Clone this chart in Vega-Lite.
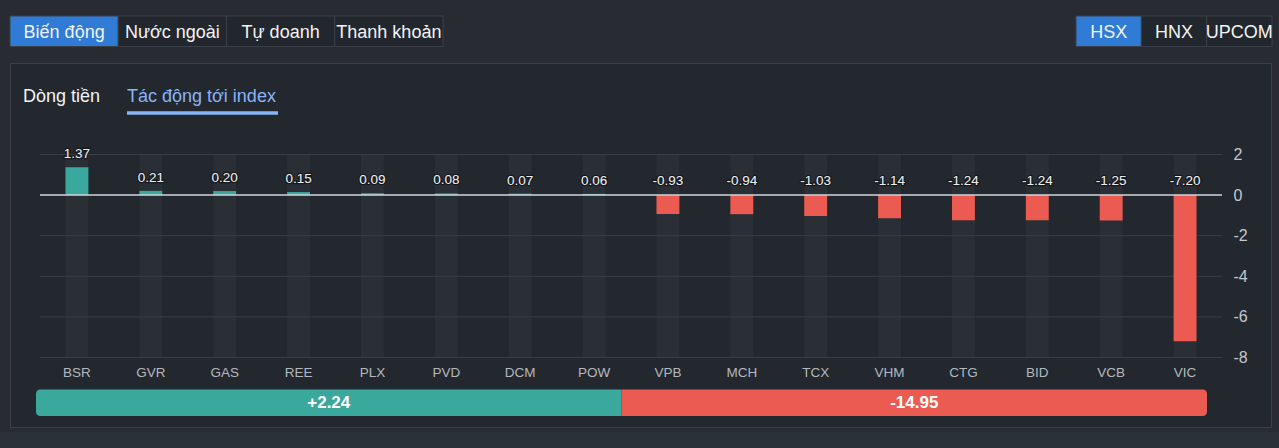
{
  "$schema": "https://vega.github.io/schema/vega-lite/v6.json",
  "width": 1261,
  "height": 364,
  "autosize": {"type": "none"},
  "padding": {"left": 10, "top": 63, "right": 8, "bottom": 21},
  "background": "#282b32",
  "view": {"fill": "#23272e", "stroke": "#3b4048", "strokeWidth": 1},
  "config": {
    "font": "Liberation Sans",
    "locale": {"number": {"decimal": ".", "thousands": ",", "grouping": [3], "currency": ["$", ""], "minus": "-"}}
  },
  "datasets": {
    "impact": [
      {"sym": "BSR", "v": 1.37},
      {"sym": "GVR", "v": 0.21},
      {"sym": "GAS", "v": 0.20},
      {"sym": "REE", "v": 0.15},
      {"sym": "PLX", "v": 0.09},
      {"sym": "PVD", "v": 0.08},
      {"sym": "DCM", "v": 0.07},
      {"sym": "POW", "v": 0.06},
      {"sym": "VPB", "v": -0.93},
      {"sym": "MCH", "v": -0.94},
      {"sym": "TCX", "v": -1.03},
      {"sym": "VHM", "v": -1.14},
      {"sym": "CTG", "v": -1.24},
      {"sym": "BID", "v": -1.24},
      {"sym": "VCB", "v": -1.25},
      {"sym": "VIC", "v": -7.20}
    ],
    "grid": [{"g": 2}, {"g": -2}, {"g": -4}, {"g": -6}, {"g": -8}],
    "btnL": [
      {"label": "Biến động", "active": true},
      {"label": "Nước ngoài", "active": false},
      {"label": "Tự doanh", "active": false},
      {"label": "Thanh khoản", "active": false}
    ],
    "btnR": [
      {"label": "HSX", "active": true},
      {"label": "HNX", "active": false},
      {"label": "UPCOM", "active": false}
    ],
    "tabs": [
      {"tab": "Dòng tiền", "active": false},
      {"tab": "Tác động tới index", "active": true}
    ],
    "summary": [
      {"side": "pos", "total": 2.24},
      {"side": "neg", "total": -14.95}
    ],
    "one": [{"k": 1}]
  },
  "layer": [
    {
      "data": {"name": "one"},
      "mark": {"type": "rect", "fill": "#2b3139"},
      "encoding": {
        "x": {"datum": 0, "type": "quantitative", "scale": {"domain": [0, 1], "range": [-10, 1269]}, "axis": null},
        "x2": {"datum": 1},
        "y": {"datum": 0, "type": "quantitative", "scale": {"domain": [0, 1], "range": [369, 392]}, "axis": null},
        "y2": {"datum": 1}
      }
    },
    {
      "data": {"name": "btnL"},
      "mark": {"type": "rect", "stroke": "#3b4048", "strokeWidth": 1},
      "encoding": {
        "x": {"field": "label", "type": "nominal", "sort": null, "scale": {"domain": ["Biến động", "Nước ngoài", "Tự doanh", "Thanh khoản"], "range": [0, 433], "paddingInner": 0, "paddingOuter": 0}, "axis": null},
        "y": {"datum": 0, "type": "quantitative", "scale": {"domain": [0, 1], "range": [-16.5, -47]}, "axis": null},
        "y2": {"datum": 1},
        "fill": {"condition": {"test": "datum.active", "value": "#2f7bd5"}, "value": "#22262d"}
      }
    },
    {
      "data": {"name": "btnL"},
      "mark": {"type": "text", "font": "Liberation Sans", "fontSize": 18, "align": "center", "baseline": "alphabetic", "fill": "#f2f3f5"},
      "encoding": {
        "x": {"field": "label", "type": "nominal", "sort": null, "scale": {"domain": ["Biến động", "Nước ngoài", "Tự doanh", "Thanh khoản"], "range": [0, 433], "paddingInner": 0, "paddingOuter": 0}, "axis": null},
        "y": {"datum": 0, "type": "quantitative", "scale": {"domain": [0, 1], "range": [-25.5, -60]}, "axis": null},
        "text": {"field": "label"}
      }
    },
    {
      "data": {"name": "btnR"},
      "mark": {"type": "rect", "stroke": "#3b4048", "strokeWidth": 1},
      "encoding": {
        "x": {"field": "label", "type": "nominal", "sort": null, "scale": {"domain": ["HSX", "HNX", "UPCOM"], "range": [1066, 1262], "paddingInner": 0, "paddingOuter": 0}, "axis": null},
        "y": {"datum": 0, "type": "quantitative", "scale": {"domain": [0, 1], "range": [-16.5, -47]}, "axis": null},
        "y2": {"datum": 1},
        "fill": {"condition": {"test": "datum.active", "value": "#2f7bd5"}, "value": "#22262d"}
      }
    },
    {
      "data": {"name": "btnR"},
      "mark": {"type": "text", "font": "Liberation Sans", "fontSize": 18, "align": "center", "baseline": "alphabetic", "fill": "#f2f3f5"},
      "encoding": {
        "x": {"field": "label", "type": "nominal", "sort": null, "scale": {"domain": ["HSX", "HNX", "UPCOM"], "range": [1066, 1262], "paddingInner": 0, "paddingOuter": 0}, "axis": null},
        "y": {"datum": 0, "type": "quantitative", "scale": {"domain": [0, 1], "range": [-25.5, -60]}, "axis": null},
        "text": {"field": "label"}
      }
    },
    {
      "data": {"name": "tabs"},
      "mark": {"type": "text", "font": "Liberation Sans", "fontSize": 18, "align": "left", "baseline": "alphabetic"},
      "encoding": {
        "x": {"field": "tab", "type": "nominal", "sort": null, "scale": {"type": "point", "domain": ["Dòng tiền", "Tác động tới index"], "range": [13, 117], "padding": 0}, "axis": null},
        "y": {"datum": 0, "type": "quantitative", "scale": {"domain": [0, 1], "range": [39, 0]}, "axis": null},
        "text": {"field": "tab"},
        "fill": {"condition": {"test": "datum.active", "value": "#8ab4f8"}, "value": "#f2f3f5"}
      }
    },
    {
      "data": {"name": "tabs"},
      "transform": [{"filter": "datum.active"}],
      "mark": {"type": "rule", "stroke": "#8ab4f8", "strokeWidth": 3.5},
      "encoding": {
        "x": {"datum": 0, "type": "quantitative", "scale": {"domain": [0, 1], "range": [117, 268]}, "axis": null},
        "x2": {"datum": 1},
        "y": {"datum": 0, "type": "quantitative", "scale": {"domain": [0, 1], "range": [50, 0]}, "axis": null}
      }
    },
    {
      "data": {"name": "impact"},
      "mark": {"type": "rect", "fill": "#2a2e35"},
      "encoding": {
        "x": {"field": "sym", "type": "nominal", "sort": null, "scale": {"range": [30, 1212], "paddingInner": 0.69, "paddingOuter": 0.345}, "axis": null},
        "y": {"datum": 2, "type": "quantitative", "scale": {"domain": [-8, 2], "range": [294.5, 91.5], "nice": false, "zero": false}, "axis": null},
        "y2": {"datum": -8}
      }
    },
    {
      "data": {"name": "grid"},
      "mark": {"type": "rule", "stroke": "#393d45", "strokeWidth": 1},
      "encoding": {
        "x": {"datum": 0, "type": "quantitative", "scale": {"domain": [0, 1], "range": [30, 1212]}, "axis": null},
        "x2": {"datum": 1},
        "y": {"field": "g", "type": "quantitative", "scale": {"domain": [-8, 2], "range": [294.5, 91.5], "nice": false, "zero": false}, "axis": null}
      }
    },
    {
      "data": {"name": "impact"},
      "mark": {"type": "bar"},
      "encoding": {
        "x": {
          "field": "sym", "type": "nominal", "sort": null,
          "scale": {"range": [30, 1212], "paddingInner": 0.69, "paddingOuter": 0.345},
          "axis": {"orient": "bottom", "offset": -69.5, "domain": false, "ticks": false, "labelPadding": 8, "labelFont": "Liberation Sans Narrow, Liberation Sans", "labelFontSize": 13.5, "labelColor": "#b4b8bf", "labelAngle": 0, "title": null}
        },
        "y": {
          "field": "v", "type": "quantitative",
          "scale": {"domain": [-8, 2], "range": [294.5, 91.5], "nice": false, "zero": false},
          "axis": {"orient": "right", "offset": -49, "values": [2, 0, -2, -4, -6, -8], "domain": false, "ticks": false, "grid": false, "labelPadding": 11, "labelFont": "Liberation Sans", "labelFontSize": 16, "labelColor": "#c4c8ce", "labelBaseline": "middle", "labelOverlap": false, "labelFlush": false, "labelBound": false, "title": null}
        },
        "y2": {"datum": 0},
        "color": {"condition": {"test": "datum.v > 0", "value": "#3aa89d"}, "value": "#ec5b51"}
      }
    },
    {
      "data": {"name": "one"},
      "mark": {"type": "rule", "stroke": "#d2d6dc", "strokeWidth": 1.5},
      "encoding": {
        "x": {"datum": 0, "type": "quantitative", "scale": {"domain": [0, 1], "range": [30, 1212]}, "axis": null},
        "x2": {"datum": 1},
        "y": {"datum": 0, "type": "quantitative", "scale": {"domain": [-8, 2], "range": [294.5, 91.5], "nice": false, "zero": false}, "axis": null}
      }
    },
    {
      "data": {"name": "impact"},
      "transform": [{"filter": "datum.v > 0"}],
      "mark": {"type": "text", "font": "Liberation Sans", "fontSize": 13.5, "align": "center", "baseline": "alphabetic", "dy": -9, "fill": "#eceef1", "stroke": "#111317", "strokeWidth": 2.5, "strokeOpacity": 0.8, "strokeJoin": "round"},
      "encoding": {
        "x": {"field": "sym", "type": "nominal", "sort": null, "scale": {"range": [30, 1212], "paddingInner": 0.69, "paddingOuter": 0.345, "domain": ["BSR", "GVR", "GAS", "REE", "PLX", "PVD", "DCM", "POW", "VPB", "MCH", "TCX", "VHM", "CTG", "BID", "VCB", "VIC"]}, "axis": null},
        "y": {"field": "v", "type": "quantitative", "scale": {"domain": [-8, 2], "range": [294.5, 91.5], "nice": false, "zero": false}, "axis": null},
        "text": {"field": "v", "format": ".2f"}
      }
    },
    {
      "data": {"name": "impact"},
      "transform": [{"filter": "datum.v > 0"}],
      "mark": {"type": "text", "font": "Liberation Sans", "fontSize": 13.5, "align": "center", "baseline": "alphabetic", "dy": -9, "fill": "#eceef1"},
      "encoding": {
        "x": {"field": "sym", "type": "nominal", "sort": null, "scale": {"range": [30, 1212], "paddingInner": 0.69, "paddingOuter": 0.345, "domain": ["BSR", "GVR", "GAS", "REE", "PLX", "PVD", "DCM", "POW", "VPB", "MCH", "TCX", "VHM", "CTG", "BID", "VCB", "VIC"]}, "axis": null},
        "y": {"field": "v", "type": "quantitative", "scale": {"domain": [-8, 2], "range": [294.5, 91.5], "nice": false, "zero": false}, "axis": null},
        "text": {"field": "v", "format": ".2f"}
      }
    },
    {
      "data": {"name": "impact"},
      "transform": [{"filter": "datum.v < 0"}],
      "mark": {"type": "text", "font": "Liberation Sans", "fontSize": 13.5, "align": "center", "baseline": "alphabetic", "dy": -10, "fill": "#eceef1", "stroke": "#111317", "strokeWidth": 2.5, "strokeOpacity": 0.8, "strokeJoin": "round"},
      "encoding": {
        "x": {"field": "sym", "type": "nominal", "sort": null, "scale": {"range": [30, 1212], "paddingInner": 0.69, "paddingOuter": 0.345, "domain": ["BSR", "GVR", "GAS", "REE", "PLX", "PVD", "DCM", "POW", "VPB", "MCH", "TCX", "VHM", "CTG", "BID", "VCB", "VIC"]}, "axis": null},
        "y": {"datum": 0, "type": "quantitative", "scale": {"domain": [-8, 2], "range": [294.5, 91.5], "nice": false, "zero": false}, "axis": null},
        "text": {"field": "v", "format": ".2f"}
      }
    },
    {
      "data": {"name": "impact"},
      "transform": [{"filter": "datum.v < 0"}],
      "mark": {"type": "text", "font": "Liberation Sans", "fontSize": 13.5, "align": "center", "baseline": "alphabetic", "dy": -10, "fill": "#eceef1"},
      "encoding": {
        "x": {"field": "sym", "type": "nominal", "sort": null, "scale": {"range": [30, 1212], "paddingInner": 0.69, "paddingOuter": 0.345, "domain": ["BSR", "GVR", "GAS", "REE", "PLX", "PVD", "DCM", "POW", "VPB", "MCH", "TCX", "VHM", "CTG", "BID", "VCB", "VIC"]}, "axis": null},
        "y": {"datum": 0, "type": "quantitative", "scale": {"domain": [-8, 2], "range": [294.5, 91.5], "nice": false, "zero": false}, "axis": null},
        "text": {"field": "v", "format": ".2f"}
      }
    },
    {
      "data": {"name": "summary"},
      "transform": [{"filter": "datum.side === 'pos'"}],
      "mark": {"type": "rect", "fill": "#3aa89d", "cornerRadiusTopLeft": 4, "cornerRadiusBottomLeft": 4},
      "encoding": {
        "x": {"field": "side", "type": "nominal", "sort": null, "scale": {"domain": ["pos", "neg"], "range": [26, 1197], "paddingInner": 0, "paddingOuter": 0}, "axis": null},
        "y": {"datum": 0, "type": "quantitative", "scale": {"domain": [0, 1], "range": [353, 326.5]}, "axis": null},
        "y2": {"datum": 1}
      }
    },
    {
      "data": {"name": "summary"},
      "transform": [{"filter": "datum.side === 'neg'"}],
      "mark": {"type": "rect", "fill": "#ec5b51", "cornerRadiusTopRight": 4, "cornerRadiusBottomRight": 4},
      "encoding": {
        "x": {"field": "side", "type": "nominal", "sort": null, "scale": {"domain": ["pos", "neg"], "range": [26, 1197], "paddingInner": 0, "paddingOuter": 0}, "axis": null},
        "y": {"datum": 0, "type": "quantitative", "scale": {"domain": [0, 1], "range": [353, 326.5]}, "axis": null},
        "y2": {"datum": 1}
      }
    },
    {
      "data": {"name": "summary"},
      "mark": {"type": "text", "font": "Liberation Sans", "fontSize": 17, "fontWeight": "bold", "align": "center", "baseline": "alphabetic", "fill": "#ffffff"},
      "encoding": {
        "x": {"field": "side", "type": "nominal", "sort": null, "scale": {"domain": ["pos", "neg"], "range": [26, 1197], "paddingInner": 0, "paddingOuter": 0}, "axis": null},
        "y": {"datum": 0, "type": "quantitative", "scale": {"domain": [0, 1], "range": [345, 0]}, "axis": null},
        "text": {"field": "total", "format": "+.2f"}
      }
    }
  ],
  "resolve": {"scale": {"x": "independent", "y": "independent"}}
}
